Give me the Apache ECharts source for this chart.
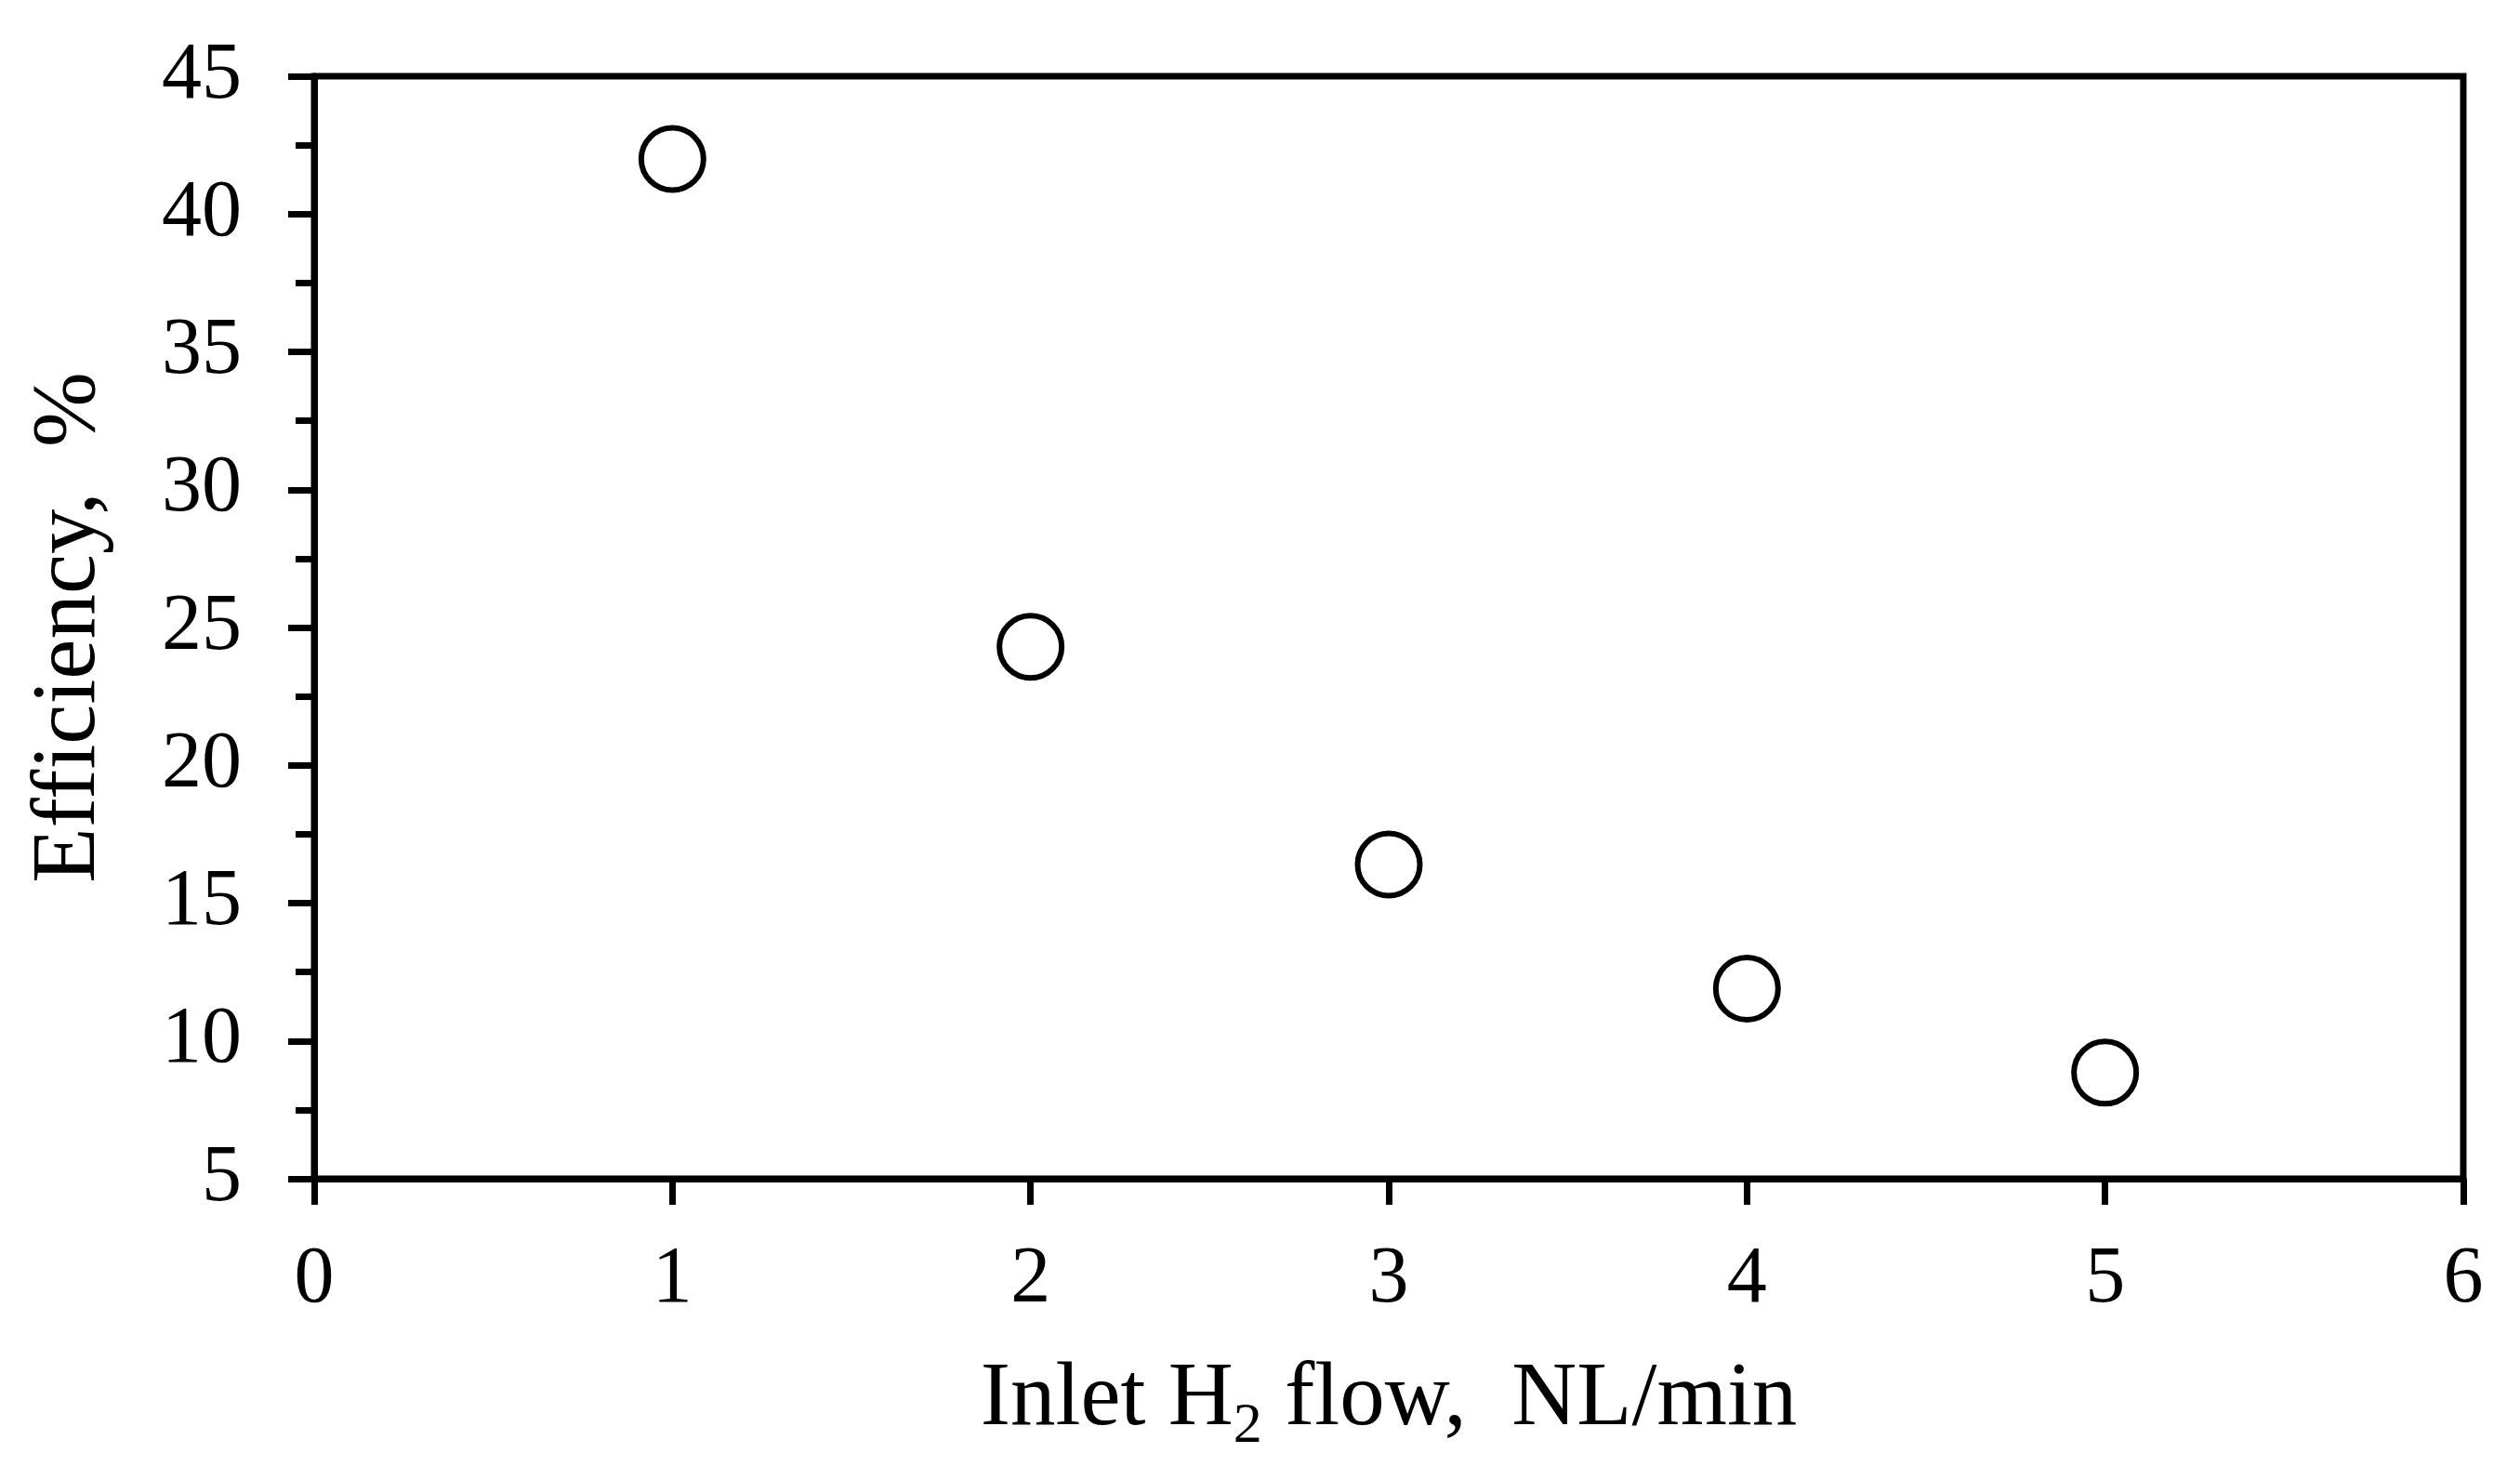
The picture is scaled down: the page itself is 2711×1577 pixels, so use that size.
<!DOCTYPE html>
<html>
<head>
<meta charset="utf-8">
<script src="https://cdn.jsdelivr.net/npm/echarts@6/dist/echarts.min.js"></script>
<style>
html,body{margin:0;padding:0;background:#fff;}
#chart{width:2711px;height:1577px;}
</style>
</head>
<body>
<div id="chart"></div>
<script>
var flowValues = [1, 2, 3, 4, 5];
var efficiencyValues = [42.0, 24.3, 16.4, 11.9, 8.85];
var xTitle = 'Inlet H{sub|2} flow,  NL/min';
var yTitle = 'Efficiency,  %';

var points = flowValues.map(function (x, i) { return [x, efficiencyValues[i]]; });
var font = '"Liberation Serif", "Times New Roman", serif';
var chart = echarts.init(document.getElementById('chart'));
chart.setOption({
  animation: false,
  backgroundColor: '#fff',
  grid: { left: 338, right: 61, top: 82, bottom: 309, containLabel: false,
          show: true, borderColor: '#000', borderWidth: 7, backgroundColor: 'transparent' },
  xAxis: {
    type: 'value', min: 0, max: 6, interval: 1,
    name: xTitle, nameLocation: 'middle', nameGap: 180,
    nameTextStyle: { fontFamily: font, fontSize: 97, color: '#000',
      rich: { sub: { fontFamily: font, fontSize: 62, color: '#000', padding: [56, 0, 0, 0] } } },
    axisLine: { show: true, lineStyle: { color: '#000', width: 7 } },
    axisTick: { show: true, inside: false, length: 28, lineStyle: { color: '#000', width: 7 } },
    axisLabel: { fontFamily: font, fontSize: 86, color: '#000', margin: 66 },
    splitLine: { show: false }
  },
  yAxis: {
    type: 'value', min: 5, max: 45, interval: 5,
    name: yTitle, nameLocation: 'middle', nameGap: 214, nameRotate: 90,
    nameTextStyle: { fontFamily: font, fontSize: 97, color: '#000' },
    axisLine: { show: true, lineStyle: { color: '#000', width: 7 } },
    axisTick: { show: true, inside: false, length: 28, lineStyle: { color: '#000', width: 7 } },
    minorTick: { show: true, splitNumber: 2, length: 20, lineStyle: { color: '#000', width: 7 } },
    axisLabel: { fontFamily: font, fontSize: 86, color: '#000', margin: 78 },
    splitLine: { show: false }
  },
  series: [{
    type: 'scatter',
    data: points,
    symbol: 'circle',
    symbolSize: 67,
    itemStyle: { color: '#fff', borderColor: '#000', borderWidth: 6, opacity: 1 }
  }]
});
</script>
</body>
</html>
